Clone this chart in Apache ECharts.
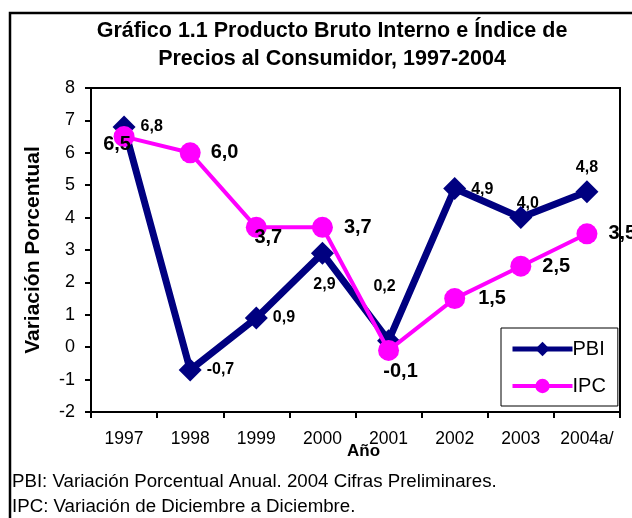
<!DOCTYPE html>
<html>
<head>
<meta charset="utf-8">
<script src="https://cdn.jsdelivr.net/npm/echarts@6/dist/echarts.min.js"></script>
<style>
  html, body { margin: 0; padding: 0; background: #fff; }
  #chart { width: 632px; height: 518px; }
</style>
</head>
<body>
<div id="chart"></div>
<script>
var years = ['1997', '1998', '1999', '2000', '2001', '2002', '2003', '2004a/']
var pbi = [6.8, -0.7, 0.9, 2.9, 0.2, 4.9, 4.0, 4.8]
var ipc = [6.5, 6.0, 3.7, 3.7, -0.1, 1.5, 2.5, 3.5]

// label placement per point (like the Excel original)
var pbiPos = ['right', 'right', 'right', 'bottom', 'top', 'right', 'top', 'top']
var pbiOff = [[0, 0], [0, 0], [0, 0], [2, 7], [-4, -30], [0, 1], [7, 10], [0, 0]]
var ipcPos = ['inside', 'right', 'inside', 'right', 'bottom', 'right', 'right', 'right']
var ipcOff = [[-7, 8], [5, 0], [12, 10], [6, 0], [12, -4], [8, 0], [6, 0], [6, 0]]

var font = 'Liberation Sans, Arial, sans-serif'
var fmt = function (p) { return p.value.toFixed(1).replace('.', ',') }

function items(values, pos, off) {
  return values.map(function (v, i) {
    return { value: v, label: { position: pos[i], offset: off[i] } }
  })
}

var chart = echarts.init(document.getElementById('chart'))
chart.setOption({
  animation: false,
  backgroundColor: '#fff',
  textStyle: { fontFamily: font, color: '#000' },
  title: {
    text: 'Gráfico 1.1 Producto Bruto Interno e Índice de\nPrecios al Consumidor, 1997-2004',
    left: 327,
    textAlign: 'center',
    top: 12,
    textStyle: { fontFamily: font, fontSize: 21.5, fontWeight: 'bold', color: '#000', lineHeight: 28 }
  },
  graphic: [
    {
      type: 'rect',
      shape: { x: 10, y: 13, width: 700, height: 600 },
      style: { fill: 'none', stroke: '#000', lineWidth: 2.5 },
      silent: true
    },
    {
      type: 'text',
      left: 12,
      top: 472,
      style: { text: 'PBI: Variación Porcentual Anual. 2004 Cifras Preliminares.', font: '18.7px ' + font, fill: '#000' }
    },
    {
      type: 'text',
      left: 12,
      top: 497,
      style: { text: 'IPC: Variación de Diciembre a Diciembre.', font: '18.7px ' + font, fill: '#000' }
    }
  ],
  legend: {
    orient: 'vertical',
    left: 501,
    top: 328,
    width: 100,
    backgroundColor: '#fff',
    borderColor: '#000',
    borderWidth: 1,
    padding: [11, 12, 10, 9],
    itemWidth: 60,
    itemHeight: 18,
    itemGap: 17,
    textStyle: { fontFamily: font, fontSize: 20, color: '#000', padding: [0, 0, 0, -5] },
    data: [
      { name: 'PBI', lineStyle: { width: 5 } },
      { name: 'IPC', lineStyle: { width: 4 } }
    ]
  },
  grid: {
    left: 91,
    right: 12,
    top: 88,
    bottom: 106,
    show: true,
    borderColor: '#000',
    borderWidth: 2
  },
  xAxis: {
    type: 'category',
    data: years,
    boundaryGap: true,
    name: 'Año',
    nameLocation: 'middle',
    nameGap: 31,
    nameMoveOverlap: false,
    nameTextStyle: { fontFamily: font, fontSize: 17, fontWeight: 'bold', color: '#000', padding: [0, 0, 0, 16] },
    axisLine: { onZero: false, lineStyle: { color: '#000', width: 2 } },
    axisTick: { show: true, inside: false, interval: 0, length: 6, lineStyle: { color: '#000', width: 2 } },
    axisLabel: { interval: 0, hideOverlap: false, fontFamily: font, fontSize: 17.5, color: '#000', margin: 18 },
    splitLine: { show: false }
  },
  yAxis: {
    type: 'value',
    min: -2,
    max: 8,
    interval: 1,
    name: 'Variación Porcentual',
    nameLocation: 'middle',
    nameGap: 47,
    nameMoveOverlap: false,
    nameTextStyle: { fontFamily: font, fontSize: 21, fontWeight: 'bold', color: '#000' },
    axisLine: { show: true, lineStyle: { color: '#000', width: 2 } },
    axisTick: { show: true, inside: false, length: 6, lineStyle: { color: '#000', width: 2 } },
    axisLabel: { fontFamily: font, fontSize: 18, color: '#000', margin: 16 },
    splitLine: { show: false }
  },
  series: [
    {
      name: 'PBI',
      type: 'line',
      data: items(pbi, pbiPos, pbiOff),
      symbol: 'diamond',
      symbolSize: 23,
      z: 2,
      itemStyle: { color: '#000080' },
      lineStyle: { color: '#000080', width: 7 },
      label: {
        show: true,
        formatter: fmt,
        fontFamily: font,
        fontSize: 16,
        fontWeight: 'bold',
        color: '#000'
      }
    },
    {
      name: 'IPC',
      type: 'line',
      data: items(ipc, ipcPos, ipcOff),
      symbol: 'circle',
      symbolSize: 21,
      z: 3,
      itemStyle: { color: '#ff00ff' },
      lineStyle: { color: '#ff00ff', width: 4 },
      label: {
        show: true,
        formatter: fmt,
        fontFamily: font,
        fontSize: 20,
        fontWeight: 'bold',
        color: '#000'
      }
    }
  ]
})
</script>
</body>
</html>
